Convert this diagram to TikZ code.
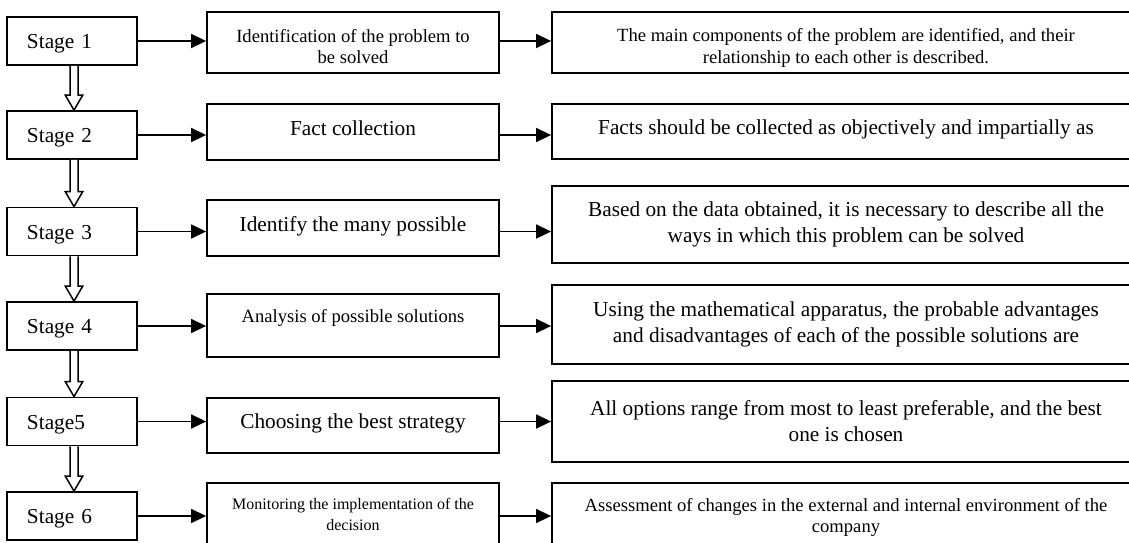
\documentclass[tikz,border=0pt]{standalone}
\usepackage{fontspec}
\setmainfont{Liberation Serif}
\usetikzlibrary{arrows.meta}

\begin{document}
\begin{tikzpicture}[x=1pt, y=-1pt,
  stage/.style={rectangle, draw, line width=1.8pt, minimum width=130pt, minimum height=48pt,
    text width=90pt, inner xsep=20pt, align=left, font=\fontsize{21.3}{26}\selectfont,
    text height=19pt, text depth=4pt},
  block/.style={rectangle, draw, line width=1.8pt, minimum width=292pt, align=center},
  wide/.style={rectangle, draw, line width=1.8pt, minimum width=588pt, align=center},
  big/.style={font=\fontsize{21.3}{26}\selectfont},
  mid/.style={font=\fontsize{18.6}{21.5}\selectfont},
  tiny/.style={font=\fontsize{16}{21}\selectfont},
  raise/.style={text height=16pt, text depth=10pt},
  link/.style={line width=1.5pt, -{Triangle[length=15pt, width=14pt]}}]
  \useasboundingbox (0,0) rectangle (1129,542);
  \clip (0,0) rectangle (1129,542);

  \node[stage] (S1) at (72,41) {Stage 1};
  \node[stage] (S2) at (72,135) {Stage 2};
  \node[stage] (S3) at (72,231.5) {Stage 3};
  \node[stage] (S4) at (72,326) {Stage 4};
  \node[stage] (S5) at (72,421.5) {Stage5};
  \node[stage] (S6) at (72,516) {Stage 6};

  \node[block, mid, minimum height=61pt] (M1) at (353,42.5) {\rule{0pt}{21pt}Identification of the problem to\\be solved};
  \node[block, big, raise, minimum height=56pt] (M2) at (353,132) {Fact collection};
  \node[block, big, raise, minimum height=56pt] (M3) at (353,228) {Identify the many possible};
  \node[block, mid, text height=13pt, text depth=20pt, minimum height=63pt] (M4) at (353,325.5) {Analysis of possible solutions};
  \node[block, big, raise, minimum height=55pt] (M5) at (353,425.5) {Choosing the best strategy};
  \node[block, tiny, minimum height=63pt] (M6) at (353,514.5) {Monitoring the implementation of the\\decision};

  \node[wide, mid, minimum height=61pt] (R1) at (846,42.5) {\rule{0pt}{23pt}The main components of the problem are identified, and their\\[0.5pt]relationship to each other is described.};
  \node[wide, big, raise, minimum height=55pt] (R2) at (846,131.5) {Facts should be collected as objectively and impartially as};
  \node[wide, big, minimum height=77pt] (R3) at (846,224.5) {Based on the data obtained, it is necessary to describe all the\\ways in which this problem can be solved};
  \node[wide, big, minimum height=79pt] (R4) at (846,324.5) {Using the mathematical apparatus, the probable advantages\\and disadvantages of each of the possible solutions are};
  \node[wide, big, minimum height=81pt] (R5) at (846,421.5) {All options range from most to least preferable, and the best\\one is chosen};
  \node[wide, mid, minimum height=69pt] (R6) at (846,517.5) {Assessment of changes in the external and internal environment of the\\company};

  \foreach \i in {1,...,6} {
    \draw[link] (S\i.east) -- (S\i -| M\i.west);
    \draw[link] (M\i.east |- S\i) -- (R\i.west |- S\i);
  }

  \foreach \a/\b in {S1/S2,S2/S3,S3/S4,S4/S5,S5/S6}
    \draw[line width=1.5pt, fill=white] ([xshift=-2pt]\a.south) -- ([xshift=-2pt,yshift=15pt]\b.north)
      -- ([xshift=-6.75pt,yshift=15pt]\b.north) -- ([xshift=2pt]\b.north)
      -- ([xshift=10.75pt,yshift=15pt]\b.north) -- ([xshift=6pt,yshift=15pt]\b.north)
      -- ([xshift=6pt]\a.south);

\end{tikzpicture}
\end{document}
